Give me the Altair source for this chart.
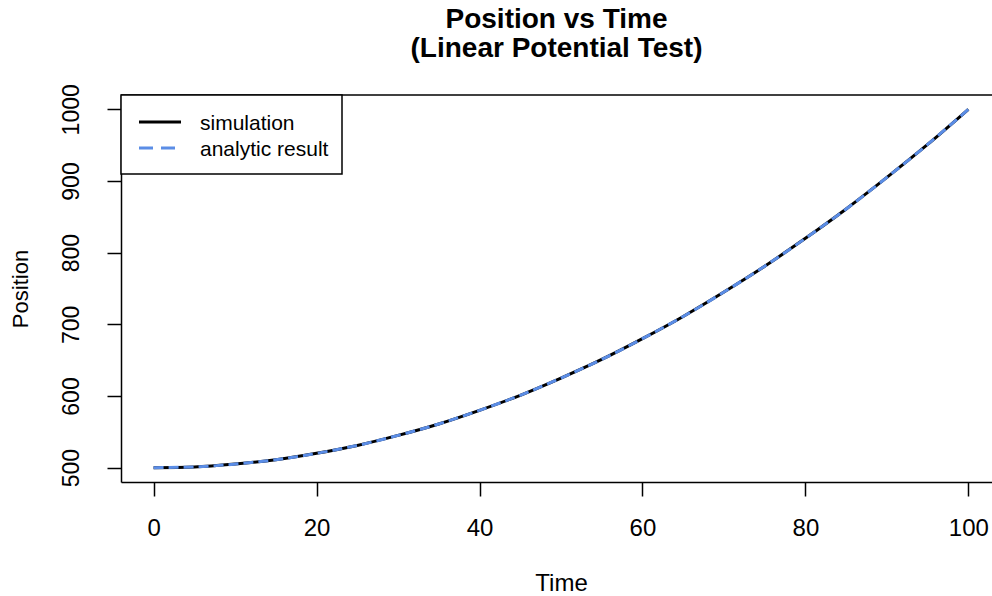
import altair as alt
import pandas as pd

# Time samples and positions along the curve
time = [0, 5, 10, 15, 20, 25, 30, 35, 40, 45, 50,
        55, 60, 65, 70, 75, 80, 85, 90, 95, 100]
simulation = [500, 501, 505, 511, 520, 531, 545, 561, 580, 601, 625,
              651, 680, 711, 745, 781, 820, 861, 905, 951, 1000]
analytic = [500, 501, 505, 511, 520, 531, 545, 561, 580, 601, 625,
            651, 680, 711, 745, 781, 820, 861, 905, 951, 1000]

x_ticks = [0, 20, 40, 60, 80, 100]
y_ticks = [500, 600, 700, 800, 900, 1000]

legend_labels = ["simulation", "analytic result"]

W, H = 871, 387
FONT = "Liberation Sans"
BLUE = "#5B8DE6"

sim_df = pd.DataFrame({"Time": time, "Position": simulation})
ana_df = pd.DataFrame({"Time": time, "Position": analytic})
one_row = pd.DataFrame({"k": [0]})  # single datum for frame and legend pieces

x_enc = alt.X(
    "Time:Q",
    scale=alt.Scale(domain=[-4, 102.9], nice=False, zero=False),
    axis=alt.Axis(
        values=x_ticks, title="Time", format="d", labelPadding=20,
        labelAngle=0, labelFontSize=24, titleFontSize=24,
        titleX=440, titleY=101, titleBaseline="middle", titleAlign="center",
    ),
)
y_enc = alt.Y(
    "Position:Q",
    scale=alt.Scale(domain=[480, 1020], nice=False, zero=False),
    axis=alt.Axis(
        values=y_ticks, title="Position", format="d", labelAngle=-90,
        labelAlign="center", labelBaseline="alphabetic", labelPadding=29,
        labelFontSize=23, titleFontSize=22,
        titleX=-101, titleY=H / 2, titleAngle=-90, titleBaseline="middle",
        titleAlign="center",
    ),
)

sim_line = alt.Chart(sim_df).mark_line(
    color="black", strokeWidth=3, interpolate="monotone"
).encode(x=x_enc, y=y_enc)

ana_line = alt.Chart(ana_df).mark_line(
    color=BLUE, strokeWidth=3, strokeDash=[10, 5], interpolate="monotone"
).encode(x="Time:Q", y="Position:Q")

# upper edge of the plot frame
top_edge = alt.Chart(one_row).mark_rule(color="black", strokeWidth=1.5).encode(
    x=alt.value(0), x2=alt.value(W), y=alt.value(0)
)

# legend box in the top-left corner
legend_box = alt.Chart(one_row).mark_rect(
    fill="white", stroke="black", strokeWidth=1.5
).encode(x=alt.value(0), x2=alt.value(221), y=alt.value(0), y2=alt.value(79))

legend_sim = alt.Chart(one_row).mark_rule(color="black", strokeWidth=3).encode(
    x=alt.value(18), x2=alt.value(60), y=alt.value(27)
)
legend_ana = alt.Chart(one_row).mark_rule(
    color=BLUE, strokeWidth=3, strokeDash=[14, 8]
).encode(x=alt.value(18), x2=alt.value(60), y=alt.value(53))

legend_text_sim = alt.Chart(one_row).mark_text(
    text=legend_labels[0], font=FONT, fontSize=21, align="left",
    baseline="alphabetic", color="black"
).encode(x=alt.value(79), y=alt.value(35))
legend_text_ana = alt.Chart(one_row).mark_text(
    text=legend_labels[1], font=FONT, fontSize=21, align="left",
    baseline="alphabetic", color="black"
).encode(x=alt.value(79), y=alt.value(61))

chart = alt.layer(
    sim_line, ana_line, top_edge, legend_box, legend_sim, legend_ana,
    legend_text_sim, legend_text_ana,
).properties(
    width=W,
    height=H,
    autosize=alt.AutoSizeParams(type="none"),
    padding={"left": 121, "top": 95, "right": 0, "bottom": 114},
    title=alt.TitleParams(
        ["Position vs Time", "(Linear Potential Test)"],
        font=FONT, fontSize=28, fontWeight="bold", color="black",
        anchor="middle", lineHeight=29, offset=21, frame="group",
    ),
).configure_view(stroke=None).configure_axis(
    domainColor="black", domainWidth=1.5, tickColor="black", tickWidth=1.5,
    tickSize=14, grid=False, labelFont=FONT,
    labelColor="black", titleFont=FONT,
    titleColor="black", titleFontWeight="normal",
)

chart.save("out.html", embed_options={"renderer": "svg", "actions": False})
